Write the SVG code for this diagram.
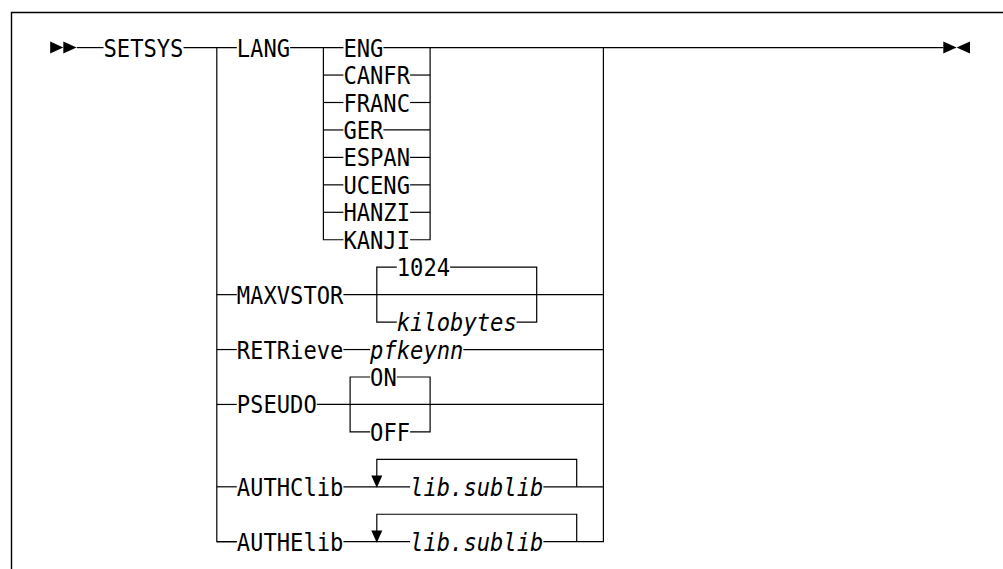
<svg xmlns="http://www.w3.org/2000/svg" width="1003" height="569" viewBox="0 0 1003 569">
<style>
.t{font-family:"DejaVu Sans Mono","Liberation Mono",monospace;font-size:22.14px;fill:#000}
.i{font-style:italic}
.c path,.c line{stroke:#000;stroke-width:1.2;fill:none}
.frame{stroke:#000;stroke-width:1.4;fill:none}
.ah{fill:#000;stroke:none}
</style>
<rect x="0" y="0" width="1003" height="569" fill="#fff"/>
<path class="frame" d="M11.5,569 V12.5 H1003"/>

<g id="connectors" class="c">
  <line x1="76.8" y1="47.6" x2="103.5" y2="47.6"/>
  <line x1="183.5" y1="47.6" x2="236.8" y2="47.6"/>
  <line x1="290.1" y1="47.6" x2="343.4" y2="47.6"/>
  <line x1="383.4" y1="47.6" x2="943.3" y2="47.6"/>
  <path d="M216.8,47.6 V541.7 H236.8"/>
  <path d="M603.4,47.6 V541.7 H543.4"/>
  <path d="M323.4,47.6 V239.75 H343.4"/>
  <path d="M430.1,47.6 V239.75 H410.1"/>
  <line x1="323.4" y1="75.05" x2="343.4" y2="75.05"/>
  <line x1="410.1" y1="75.05" x2="430.1" y2="75.05"/>
  <line x1="323.4" y1="102.5" x2="343.4" y2="102.5"/>
  <line x1="410.1" y1="102.5" x2="430.1" y2="102.5"/>
  <line x1="323.4" y1="129.95" x2="343.4" y2="129.95"/>
  <line x1="383.4" y1="129.95" x2="430.1" y2="129.95"/>
  <line x1="323.4" y1="157.4" x2="343.4" y2="157.4"/>
  <line x1="410.1" y1="157.4" x2="430.1" y2="157.4"/>
  <line x1="323.4" y1="184.85" x2="343.4" y2="184.85"/>
  <line x1="410.1" y1="184.85" x2="430.1" y2="184.85"/>
  <line x1="323.4" y1="212.3" x2="343.4" y2="212.3"/>
  <line x1="410.1" y1="212.3" x2="430.1" y2="212.3"/>
  <line x1="216.8" y1="294.65" x2="236.8" y2="294.65"/>
  <line x1="343.4" y1="294.65" x2="603.4" y2="294.65"/>
  <path d="M396.8,267.2 H376.8 V322.1 H396.8"/>
  <path d="M450.1,267.2 H536.7 V322.1 H516.7"/>
  <line x1="216.8" y1="349.55" x2="236.8" y2="349.55"/>
  <line x1="343.4" y1="349.55" x2="370.1" y2="349.55"/>
  <line x1="463.4" y1="349.55" x2="603.4" y2="349.55"/>
  <line x1="216.8" y1="404.45" x2="236.8" y2="404.45"/>
  <line x1="316.8" y1="404.45" x2="603.4" y2="404.45"/>
  <path d="M370.1,377 H350.1 V431.9 H370.1"/>
  <path d="M396.8,377 H430.1 V431.9 H410.1"/>
  <line x1="216.8" y1="486.8" x2="236.8" y2="486.8"/>
  <line x1="343.4" y1="486.8" x2="410.1" y2="486.8"/>
  <line x1="543.4" y1="486.8" x2="603.4" y2="486.8"/>
  <path d="M376.8,476 V459.35 H576.7 V486.8"/>
  <polygon class="ah" points="371.3,475.5 382.3,475.5 376.8,487.8"/>
  <line x1="216.8" y1="541.7" x2="236.8" y2="541.7"/>
  <line x1="343.4" y1="541.7" x2="410.1" y2="541.7"/>
  <path d="M376.8,531 V514.25 H576.7 V541.7"/>
  <polygon class="ah" points="371.3,530.4 382.3,530.4 376.8,542.7"/>
  <polygon class="ah" points="50.2,41.6 63.3,47.6 50.2,53.6"/>
  <polygon class="ah" points="63.3,41.6 76.6,47.6 63.3,53.6"/>
  <polygon class="ah" points="943.3,41.6 956.6,47.6 943.3,53.6"/>
  <polygon class="ah" points="970,41.6 956.6,47.6 970,53.6"/>
</g>

<g id="setsys"><text class="t" transform="translate(103.5,56.6) scale(1,1.1)">SETSYS</text></g>
<g id="lang"><text class="t" transform="translate(236.8,56.6) scale(1,1.1)">LANG</text></g>
<g id="eng"><text class="t" transform="translate(343.4,56.6) scale(1,1.1)">ENG</text></g>
<g id="canfr"><text class="t" transform="translate(343.4,84.05) scale(1,1.1)">CANFR</text></g>
<g id="franc"><text class="t" transform="translate(343.4,111.5) scale(1,1.1)">FRANC</text></g>
<g id="ger"><text class="t" transform="translate(343.4,138.95) scale(1,1.1)">GER</text></g>
<g id="espan"><text class="t" transform="translate(343.4,166.4) scale(1,1.1)">ESPAN</text></g>
<g id="uceng"><text class="t" transform="translate(343.4,193.85) scale(1,1.1)">UCENG</text></g>
<g id="hanzi"><text class="t" transform="translate(343.4,221.3) scale(1,1.1)">HANZI</text></g>
<g id="kanji"><text class="t" transform="translate(343.4,248.75) scale(1,1.1)">KANJI</text></g>
<g id="maxvstor"><text class="t" transform="translate(236.8,303.65) scale(1,1.1)">MAXVSTOR</text></g>
<g id="v1024"><text class="t" transform="translate(396.8,276.2) scale(1,1.1)">1024</text></g>
<g id="kilobytes"><text class="t i" transform="translate(396.8,331.1) scale(1,1.1)">kilobytes</text></g>
<g id="retrieve"><text class="t" transform="translate(236.8,358.55) scale(1,1.1)">RETRieve</text></g>
<g id="pfkeynn"><text class="t i" transform="translate(370.1,358.55) scale(1,1.1)">pfkeynn</text></g>
<g id="pseudo"><text class="t" transform="translate(236.8,413.45) scale(1,1.1)">PSEUDO</text></g>
<g id="on"><text class="t" transform="translate(370.1,386) scale(1,1.1)">ON</text></g>
<g id="off"><text class="t" transform="translate(370.1,440.9) scale(1,1.1)">OFF</text></g>
<g id="authclib"><text class="t" transform="translate(236.8,495.8) scale(1,1.1)">AUTHClib</text></g>
<g id="libsublib1"><text class="t i" transform="translate(410.1,495.8) scale(1,1.1)">lib.sublib</text></g>
<g id="authelib"><text class="t" transform="translate(236.8,550.7) scale(1,1.1)">AUTHElib</text></g>
<g id="libsublib2"><text class="t i" transform="translate(410.1,550.7) scale(1,1.1)">lib.sublib</text></g>
</svg>
